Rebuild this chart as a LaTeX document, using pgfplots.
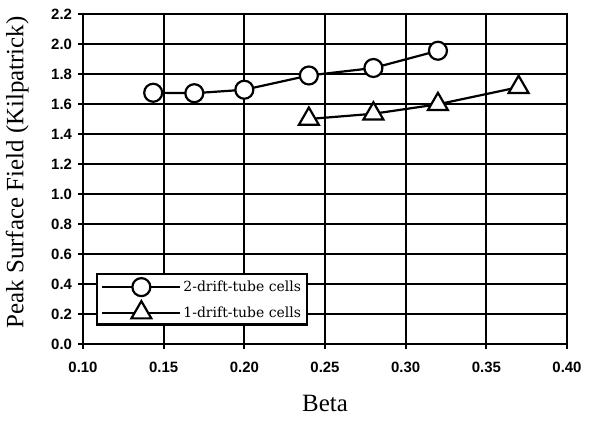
\documentclass[border=0pt]{standalone}
\usepackage{fontspec}
\setmainfont{Liberation Serif}
\newfontfamily\ticksf{Liberation Sans}
\newfontfamily\legfont{DejaVu Serif}
\usepackage{pgfplots}
\pgfplotsset{compat=1.18}

\begin{document}
\begin{tikzpicture}
\begin{axis}[
  at={(0,0)}, anchor=south west,
  scale only axis, width=484bp, height=330bp,
  xmin=0.10, xmax=0.40, ymin=0, ymax=2.2,
  xtick={0.10,0.15,0.20,0.25,0.30,0.35,0.40},
  ytick={0,0.2,0.4,0.6,0.8,1.0,1.2,1.4,1.6,1.8,2.0,2.2},
  xtick pos=bottom, ytick pos=left,
  grid=major, major grid style={black, line width=2.2bp},
  axis line style={black, line width=2.4bp},
  tick style={black, line width=2.2bp}, major tick length=9bp, tick align=center,
  xticklabel style={font=\ticksf\bfseries\fontsize{15}{15}\selectfont,
    /pgf/number format/.cd, fixed, fixed zerofill, precision=2, assume math mode=true},
  yticklabel style={font=\ticksf\bfseries\fontsize{15}{15}\selectfont,
    /pgf/number format/.cd, fixed, fixed zerofill, precision=1, assume math mode=true},
  xticklabel shift=10bp, yticklabel shift=3bp,
  xlabel={Beta}, ylabel={Peak Surface Field (Kilpatrick)},
  label style={font=\fontsize{25}{25}\selectfont},
  xlabel style={at={(axis description cs:0.5,-0.18)}, anchor=center},
  ylabel style={at={(axis description cs:-0.136,0.52)}, anchor=center},
  legend style={at={(axis description cs:0.027,0.055)}, anchor=south west,
    draw=black, line width=2.4bp, fill=white,
    font=\legfont\fontsize{14}{16}\selectfont, cells={anchor=west},
    row sep=5bp, inner xsep=4bp, inner ysep=4bp},
  legend image code/.code={\draw[mark repeat=2, mark phase=2]
    plot coordinates {(0bp,0bp) (39bp,0bp) (78bp,0bp)};},
]
\addplot[black, line width=2.2bp, mark=*, mark size=9bp,
  mark options={fill=white, draw=black, line width=2.2bp}] coordinates {
  (0.1435,1.675) (0.169,1.672) (0.200,1.695) (0.240,1.790) (0.280,1.840) (0.320,1.955)
};
\addlegendentry{2-drift-tube cells}
\addplot[black, line width=2.2bp, mark=triangle*, mark size=11.5bp,
  mark options={fill=white, draw=black, line width=2.2bp}] coordinates {
  (0.240,1.500) (0.280,1.535) (0.320,1.598) (0.370,1.712)
};
\addlegendentry{1-drift-tube cells}
\end{axis}
\pgfresetboundingbox
\path[use as bounding box] (-83bp,-78bp) rectangle (522bp,344bp);
\end{tikzpicture}
\end{document}
